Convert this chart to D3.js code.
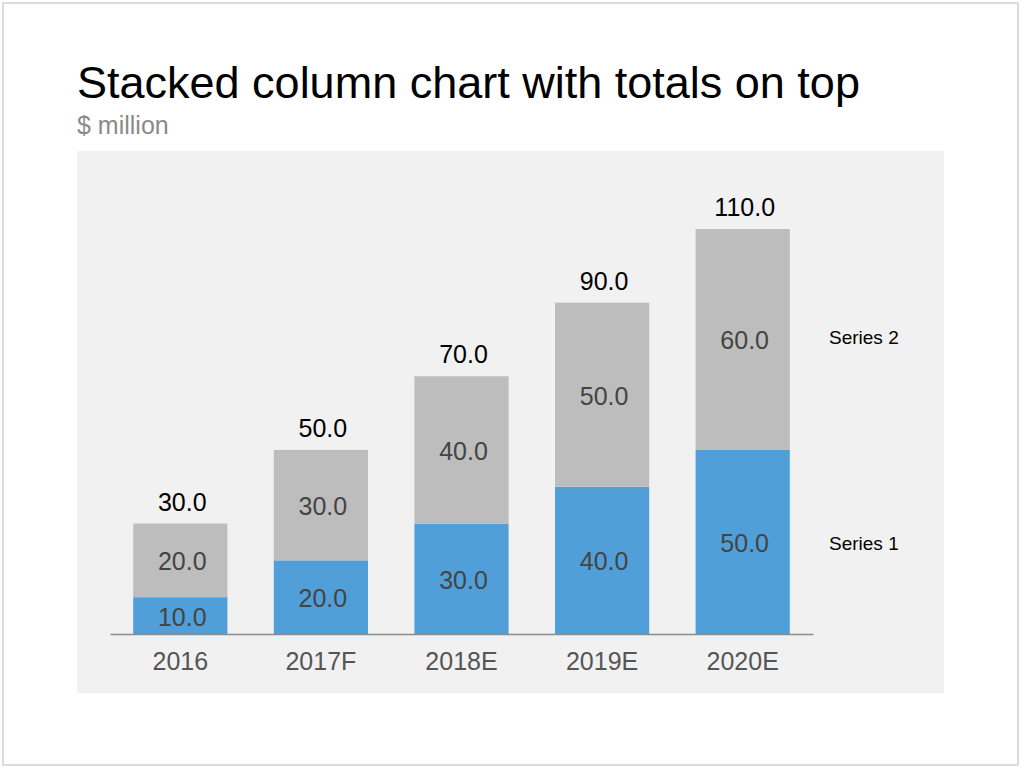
<!DOCTYPE html>
<html>
<head>
<meta charset="utf-8">
<script src="https://cdn.jsdelivr.net/npm/d3@7"></script>
<style>
  body { margin: 0; background: #fff; }
  svg text { font-family: "Helvetica Neue", Helvetica, "Liberation Sans", Arial, sans-serif; }
</style>
</head>
<body>
<div id="chart"></div>
<script>
// stacked columns with totals on top

var categories = ["2016", "2017F", "2018E", "2019E", "2020E"];
var seriesNames = ["Series 1", "Series 2"];
var series1 = [10, 20, 30, 40, 50];
var series2 = [20, 30, 40, 50, 60];

var width = 1024,
    height = 769;

var svg = d3.select("#chart").append("svg")
    .attr("width", width)
    .attr("height", height);

// slide frame
svg.append("rect")
    .attr("x", 3).attr("y", 3)
    .attr("width", 1015).attr("height", 762)
    .attr("fill", "#fff")
    .attr("stroke", "#dcdcdc")
    .attr("stroke-width", 2);

svg.append("text")
    .attr("x", 77).attr("y", 98)
    .attr("font-size", 45)
    .attr("fill", "#000")
    .text("Stacked column chart with totals on top");

svg.append("text")
    .attr("x", 77).attr("y", 134)
    .attr("font-size", 25)
    .attr("fill", "#8a8a8a")
    .text("$ million");

// plot background
svg.append("rect")
    .attr("x", 77).attr("y", 151)
    .attr("width", 867).attr("height", 542)
    .attr("fill", "#f1f1f1");

var rows = categories.map(function(c, i) {
    return { cat: c, "Series 1": series1[i], "Series 2": series2[i] };
});

var stacked = d3.stack().keys(seriesNames)(rows);
var totals = rows.map(function(d) { return d["Series 1"] + d["Series 2"]; });

var x = d3.scaleBand()
    .domain(categories)
    .range([110, 813])
    .paddingInner(0.33)
    .paddingOuter(0.165);

var y = d3.scaleLinear()
    .domain([0, 110])
    .range([634, 229]);

var color = d3.scaleOrdinal()
    .domain(seriesNames)
    .range(["#519fd9", "#bdbdbd"]);

var layers = svg.selectAll("g.layer")
    .data(stacked)
    .enter().append("g")
    .attr("class", "layer")
    .attr("fill", function(d) { return color(d.key); });

layers.selectAll("rect")
    .data(function(d) { return d; })
    .enter().append("rect")
    .attr("x", function(d) { return x(d.data.cat); })
    .attr("y", function(d) { return y(d[1]); })
    .attr("width", x.bandwidth())
    .attr("height", function(d) { return y(d[0]) - y(d[1]); });

// values inside segments
layers.selectAll("text")
    .data(function(d) { return d; })
    .enter().append("text")
    .attr("x", function(d) { return x(d.data.cat) + x.bandwidth() / 2 + 2; })
    .attr("y", function(d) { return (y(d[0]) + y(d[1])) / 2 + 1; })
    .attr("dy", "0.36em")
    .attr("text-anchor", "middle")
    .attr("font-size", 25)
    .attr("fill", "#444")
    .text(function(d) { return (d[1] - d[0]).toFixed(1); });

// totals on top
svg.selectAll("text.total")
    .data(totals)
    .enter().append("text")
    .attr("class", "total")
    .attr("x", function(d, i) { return x(categories[i]) + x.bandwidth() / 2 + 2; })
    .attr("y", function(d) { return y(d) - 13; })
    .attr("text-anchor", "middle")
    .attr("font-size", 25)
    .attr("fill", "#000")
    .text(function(d) { return d.toFixed(1); });

// x axis
var xAxis = svg.append("g")
    .attr("transform", "translate(0," + y(0) + ")")
    .call(d3.axisBottom(x).tickSize(0).tickPadding(18));
xAxis.select(".domain").attr("stroke", "#8c8c8c").attr("stroke-width", 1.5);
xAxis.selectAll("text")
    .attr("font-size", 25)
    .attr("fill", "#555")
    .attr("font-family", null);

// legend next to last column
var last = categories.length - 1;
svg.selectAll("text.legend")
    .data(stacked)
    .enter().append("text")
    .attr("class", "legend")
    .attr("x", 829)
    .attr("y", function(d, i) { return (y(d[last][0]) + y(d[last][1])) / 2 + (i ? -2 : 1); })
    .attr("dy", "0.36em")
    .attr("font-size", 19)
    .attr("fill", "#000")
    .text(function(d) { return d.key; });
</script>
</body>
</html>
